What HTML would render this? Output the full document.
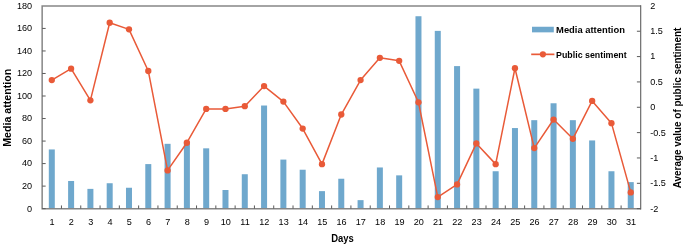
<!DOCTYPE html>
<html lang="en"><head><meta charset="utf-8"><title>Media attention and public sentiment</title>
<style>html,body{margin:0;padding:0;background:#fff}svg{display:block}</style></head>
<body>
<svg width="685" height="246" viewBox="0 0 685 246" font-family="'Liberation Sans', sans-serif">
<rect width="685" height="246" fill="#fff"/>
<rect x="48.80" y="149.45" width="6.0" height="59.20" fill="#6fa8cd"/>
<rect x="68.10" y="180.99" width="6.0" height="27.66" fill="#6fa8cd"/>
<rect x="87.40" y="188.88" width="6.0" height="19.78" fill="#6fa8cd"/>
<rect x="106.69" y="183.24" width="6.0" height="25.41" fill="#6fa8cd"/>
<rect x="125.99" y="187.75" width="6.0" height="20.90" fill="#6fa8cd"/>
<rect x="145.29" y="164.09" width="6.0" height="44.56" fill="#6fa8cd"/>
<rect x="164.59" y="143.82" width="6.0" height="64.83" fill="#6fa8cd"/>
<rect x="183.89" y="141.57" width="6.0" height="67.08" fill="#6fa8cd"/>
<rect x="203.19" y="148.33" width="6.0" height="60.32" fill="#6fa8cd"/>
<rect x="222.48" y="190.00" width="6.0" height="18.65" fill="#6fa8cd"/>
<rect x="241.78" y="174.23" width="6.0" height="34.42" fill="#6fa8cd"/>
<rect x="261.08" y="105.52" width="6.0" height="103.13" fill="#6fa8cd"/>
<rect x="280.38" y="159.59" width="6.0" height="49.06" fill="#6fa8cd"/>
<rect x="299.68" y="169.73" width="6.0" height="38.92" fill="#6fa8cd"/>
<rect x="318.98" y="191.13" width="6.0" height="17.52" fill="#6fa8cd"/>
<rect x="338.27" y="178.74" width="6.0" height="29.91" fill="#6fa8cd"/>
<rect x="357.57" y="200.14" width="6.0" height="8.51" fill="#6fa8cd"/>
<rect x="376.87" y="167.47" width="6.0" height="41.18" fill="#6fa8cd"/>
<rect x="396.17" y="175.36" width="6.0" height="33.29" fill="#6fa8cd"/>
<rect x="415.47" y="16.24" width="6.0" height="192.41" fill="#6fa8cd"/>
<rect x="434.77" y="30.88" width="6.0" height="177.77" fill="#6fa8cd"/>
<rect x="454.07" y="66.10" width="6.0" height="142.55" fill="#6fa8cd"/>
<rect x="473.36" y="88.63" width="6.0" height="120.02" fill="#6fa8cd"/>
<rect x="492.66" y="171.25" width="6.0" height="37.40" fill="#6fa8cd"/>
<rect x="511.96" y="128.05" width="6.0" height="80.60" fill="#6fa8cd"/>
<rect x="531.26" y="120.17" width="6.0" height="88.48" fill="#6fa8cd"/>
<rect x="550.56" y="103.27" width="6.0" height="105.38" fill="#6fa8cd"/>
<rect x="569.86" y="120.17" width="6.0" height="88.48" fill="#6fa8cd"/>
<rect x="589.15" y="140.44" width="6.0" height="68.21" fill="#6fa8cd"/>
<rect x="608.45" y="171.25" width="6.0" height="37.40" fill="#6fa8cd"/>
<rect x="627.75" y="182.12" width="6.0" height="26.53" fill="#6fa8cd"/>
<path d="M42.15 209.4V5.9H640.9M640.9 208.65H42.15" fill="none" stroke="#868686" stroke-width="1.5"/>
<path d="M640.6999999999999 5.15V209.4" fill="none" stroke="#5e5e5e" stroke-width="1.1"/>
<path d="M42.15 208.65h3.5M42.15 186.12h3.5M42.15 163.59h3.5M42.15 141.07h3.5M42.15 118.54h3.5M42.15 96.01h3.5M42.15 73.48h3.5M42.15 50.96h3.5M42.15 28.43h3.5M640.4 208.65h-3.5M640.4 183.31h-3.5M640.4 157.96h-3.5M640.4 132.62h-3.5M640.4 107.28h-3.5M640.4 81.93h-3.5M640.4 56.59h-3.5M640.4 31.24h-3.5M61.45 208.65v-3.2M80.75 208.65v-3.2M100.05 208.65v-3.2M119.34 208.65v-3.2M138.64 208.65v-3.2M157.94 208.65v-3.2M177.24 208.65v-3.2M196.54 208.65v-3.2M215.84 208.65v-3.2M235.13 208.65v-3.2M254.43 208.65v-3.2M273.73 208.65v-3.2M293.03 208.65v-3.2M312.33 208.65v-3.2M331.63 208.65v-3.2M350.92 208.65v-3.2M370.22 208.65v-3.2M389.52 208.65v-3.2M408.82 208.65v-3.2M428.12 208.65v-3.2M447.42 208.65v-3.2M466.71 208.65v-3.2M486.01 208.65v-3.2M505.31 208.65v-3.2M524.61 208.65v-3.2M543.91 208.65v-3.2M563.21 208.65v-3.2M582.50 208.65v-3.2M601.80 208.65v-3.2M621.10 208.65v-3.2" fill="none" stroke="#5a5a5a" stroke-width="1"/>
<polyline points="51.80,80.06 71.10,68.69 90.40,100.33 109.69,22.77 128.99,29.36 148.29,70.98 167.59,170.41 186.89,142.74 206.19,108.95 225.48,108.95 244.78,106.19 264.08,86.07 283.38,101.59 302.68,128.56 321.98,164.13 341.27,114.52 360.57,80.06 379.87,57.80 399.17,60.84 418.47,102.29 437.77,197.08 457.07,184.41 476.36,143.42 495.66,164.13 514.96,68.25 534.26,148.11 553.56,119.53 572.86,138.79 592.15,100.89 611.45,123.14 630.75,192.41" fill="none" stroke="#e95a38" stroke-width="1.5" stroke-linejoin="round"/>
<circle cx="51.80" cy="80.06" r="3.15" fill="#e95a38"/>
<circle cx="71.10" cy="68.69" r="3.15" fill="#e95a38"/>
<circle cx="90.40" cy="100.33" r="3.15" fill="#e95a38"/>
<circle cx="109.69" cy="22.77" r="3.15" fill="#e95a38"/>
<circle cx="128.99" cy="29.36" r="3.15" fill="#e95a38"/>
<circle cx="148.29" cy="70.98" r="3.15" fill="#e95a38"/>
<circle cx="167.59" cy="170.41" r="3.15" fill="#e95a38"/>
<circle cx="186.89" cy="142.74" r="3.15" fill="#e95a38"/>
<circle cx="206.19" cy="108.95" r="3.15" fill="#e95a38"/>
<circle cx="225.48" cy="108.95" r="3.15" fill="#e95a38"/>
<circle cx="244.78" cy="106.19" r="3.15" fill="#e95a38"/>
<circle cx="264.08" cy="86.07" r="3.15" fill="#e95a38"/>
<circle cx="283.38" cy="101.59" r="3.15" fill="#e95a38"/>
<circle cx="302.68" cy="128.56" r="3.15" fill="#e95a38"/>
<circle cx="321.98" cy="164.13" r="3.15" fill="#e95a38"/>
<circle cx="341.27" cy="114.52" r="3.15" fill="#e95a38"/>
<circle cx="360.57" cy="80.06" r="3.15" fill="#e95a38"/>
<circle cx="379.87" cy="57.80" r="3.15" fill="#e95a38"/>
<circle cx="399.17" cy="60.84" r="3.15" fill="#e95a38"/>
<circle cx="418.47" cy="102.29" r="3.15" fill="#e95a38"/>
<circle cx="437.77" cy="197.08" r="3.15" fill="#e95a38"/>
<circle cx="457.07" cy="184.41" r="3.15" fill="#e95a38"/>
<circle cx="476.36" cy="143.42" r="3.15" fill="#e95a38"/>
<circle cx="495.66" cy="164.13" r="3.15" fill="#e95a38"/>
<circle cx="514.96" cy="68.25" r="3.15" fill="#e95a38"/>
<circle cx="534.26" cy="148.11" r="3.15" fill="#e95a38"/>
<circle cx="553.56" cy="119.53" r="3.15" fill="#e95a38"/>
<circle cx="572.86" cy="138.79" r="3.15" fill="#e95a38"/>
<circle cx="592.15" cy="100.89" r="3.15" fill="#e95a38"/>
<circle cx="611.45" cy="123.14" r="3.15" fill="#e95a38"/>
<circle cx="630.75" cy="192.41" r="3.15" fill="#e95a38"/>
<g font-size="9.1px" fill="#000">
<text x="32.1" y="211.55" text-anchor="end">0</text>
<text x="32.1" y="189.02" text-anchor="end">20</text>
<text x="32.1" y="166.49" text-anchor="end">40</text>
<text x="32.1" y="143.97" text-anchor="end">60</text>
<text x="32.1" y="121.44" text-anchor="end">80</text>
<text x="32.1" y="98.91" text-anchor="end">100</text>
<text x="32.1" y="76.38" text-anchor="end">120</text>
<text x="32.1" y="53.86" text-anchor="end">140</text>
<text x="32.1" y="31.33" text-anchor="end">160</text>
<text x="32.1" y="8.80" text-anchor="end">180</text>
<text x="650.2" y="211.55">-2</text>
<text x="650.2" y="186.21">-1.5</text>
<text x="650.2" y="160.86">-1</text>
<text x="650.2" y="135.52">-0.5</text>
<text x="650.2" y="110.18">0</text>
<text x="650.2" y="84.83">0.5</text>
<text x="650.2" y="59.49">1</text>
<text x="650.2" y="34.14">1.5</text>
<text x="650.2" y="8.80">2</text>
<text x="52.10" y="224.8" text-anchor="middle">1</text>
<text x="71.40" y="224.8" text-anchor="middle">2</text>
<text x="90.70" y="224.8" text-anchor="middle">3</text>
<text x="109.99" y="224.8" text-anchor="middle">4</text>
<text x="129.29" y="224.8" text-anchor="middle">5</text>
<text x="148.59" y="224.8" text-anchor="middle">6</text>
<text x="167.89" y="224.8" text-anchor="middle">7</text>
<text x="187.19" y="224.8" text-anchor="middle">8</text>
<text x="206.49" y="224.8" text-anchor="middle">9</text>
<text x="225.78" y="224.8" text-anchor="middle">10</text>
<text x="245.08" y="224.8" text-anchor="middle">11</text>
<text x="264.38" y="224.8" text-anchor="middle">12</text>
<text x="283.68" y="224.8" text-anchor="middle">13</text>
<text x="302.98" y="224.8" text-anchor="middle">14</text>
<text x="322.28" y="224.8" text-anchor="middle">15</text>
<text x="341.57" y="224.8" text-anchor="middle">16</text>
<text x="360.87" y="224.8" text-anchor="middle">17</text>
<text x="380.17" y="224.8" text-anchor="middle">18</text>
<text x="399.47" y="224.8" text-anchor="middle">19</text>
<text x="418.77" y="224.8" text-anchor="middle">20</text>
<text x="438.07" y="224.8" text-anchor="middle">21</text>
<text x="457.37" y="224.8" text-anchor="middle">22</text>
<text x="476.66" y="224.8" text-anchor="middle">23</text>
<text x="495.96" y="224.8" text-anchor="middle">24</text>
<text x="515.26" y="224.8" text-anchor="middle">25</text>
<text x="534.56" y="224.8" text-anchor="middle">26</text>
<text x="553.86" y="224.8" text-anchor="middle">27</text>
<text x="573.16" y="224.8" text-anchor="middle">28</text>
<text x="592.45" y="224.8" text-anchor="middle">29</text>
<text x="611.75" y="224.8" text-anchor="middle">30</text>
<text x="631.05" y="224.8" text-anchor="middle">31</text>
</g>
<g font-weight="bold" fill="#000">
<text x="342.5" y="241.8" font-size="10.1px" text-anchor="middle" textLength="22.6" lengthAdjust="spacingAndGlyphs">Days</text>
<text transform="translate(11.25 107.8) rotate(-90)" font-size="10.8px" text-anchor="middle" textLength="78" lengthAdjust="spacingAndGlyphs">Media attention</text>
<text transform="translate(680.6 108) rotate(-90)" font-size="10.8px" text-anchor="middle" textLength="160.5" lengthAdjust="spacingAndGlyphs">Average value of public sentiment</text>
<text x="556.1" y="33" font-size="9.1px" textLength="68.8" lengthAdjust="spacingAndGlyphs">Media attention</text>
<text x="556.1" y="57.5" font-size="9.1px" textLength="70.6" lengthAdjust="spacingAndGlyphs">Public sentiment</text>
</g>
<rect x="532" y="26.75" width="21.8" height="5.6" fill="#6fa8cd"/>
<path d="M531.2 54.35h23.2" stroke="#e95a38" stroke-width="1.7"/><circle cx="542.9" cy="54.35" r="3.1" fill="#e95a38"/>
</svg>
</body></html>
